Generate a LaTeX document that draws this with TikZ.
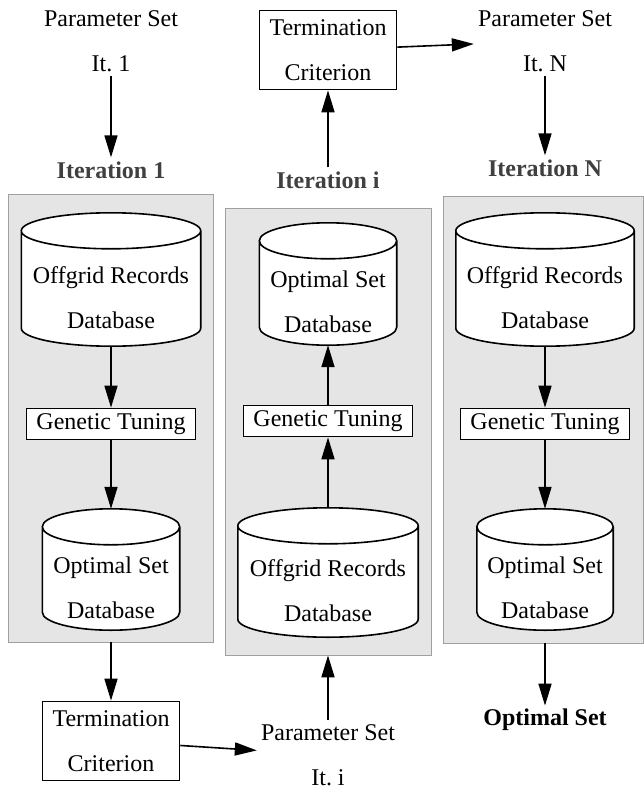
\documentclass[tikz,border=0pt]{standalone}
\usepackage{fontspec}
\setmainfont{Liberation Serif}
\usetikzlibrary{positioning,arrows.meta,calc}

% database cylinder: name, position, width, height, text
\newcommand{\dbnode}[5]{%
  \node[dbbox, minimum width=#3, minimum height=#4] (#1) at (#2) {};
  \draw[db] let \p1=(#1.north west), \p2=(#1.south east), \n1={(\x2-\x1)/2} in
    ([yshift=-18pt]#1.north west) -- ([yshift=18pt]#1.south west)
    arc[start angle=180, end angle=360, x radius=\n1, y radius=18pt]
    -- ([yshift=-18pt]#1.north east)
    arc[start angle=0, end angle=180, x radius=\n1, y radius=18pt]
    arc[start angle=180, end angle=360, x radius=\n1, y radius=18pt];
  \node[dbtext] (#1t) at ([yshift=-18pt]#1.center) {#5};
}

\begin{document}
\begin{tikzpicture}[
  x=1pt, y=-1pt,
  every node/.style={font=\fontsize{24}{45}\selectfont},
  txt/.style={align=center, inner sep=4pt},
  iter/.style={font=\fontsize{24}{45}\selectfont\bfseries, text=black!75, inner sep=4pt},
  panel/.style={draw=gray!75, fill=gray!20, line width=0.8pt, inner sep=0pt},
  crit/.style={draw, line width=1.6pt, align=center, inner xsep=10pt, inner ysep=9pt},
  tune/.style={draw, fill=white, line width=1.6pt, inner xsep=10pt, inner ysep=5pt},
  dbbox/.style={inner sep=0pt},
  db/.style={draw, fill=white, line width=1.6pt},
  dbtext/.style={align=center, inner sep=0pt},
  ar/.style={line width=1.6pt, -{Triangle[length=22pt,width=13pt]}}]

  \useasboundingbox (0,0) rectangle (644,789);

  % iteration panels
  \node[panel, minimum width=205pt, minimum height=448pt] (pan1) at (110.5,418) {};
  \node[panel, minimum width=206pt, minimum height=447pt] (pan2) at (328,431.5) {};
  \node[panel, minimum width=200pt, minimum height=447pt] (pan3) at (543,419.5) {};

  % iteration 1
  \node[txt] (ps1) at (111,41.5) {Parameter Set\\It.\ 1};
  \node[iter] (it1) at (111,170) {Iteration 1};
  \dbnode{off1}{111,279.5}{179pt}{133pt}{Offgrid Records\\Database}
  \node[tune] (gt1) at (111,424) {Genetic Tuning};
  \dbnode{opt1}{111,569.5}{137pt}{121pt}{Optimal Set\\Database}
  \node[crit] (tc1) at (111,741) {Termination\\Criterion};
  \node[txt] (psi) at (328,755) {Parameter Set\\It.\ i};

  % iteration i
  \node[crit] (tci) at (328,50) {Termination\\Criterion};
  \node[iter] (iti) at (328,180) {Iteration i};
  \dbnode{opti}{328,284}{137pt}{122pt}{Optimal Set\\Database}
  \node[tune] (gti) at (328,421) {Genetic Tuning};
  \dbnode{offi}{328,572.5}{180pt}{129pt}{Offgrid Records\\Database}

  % iteration N
  \node[txt] (psN) at (545,41) {Parameter Set\\It.\ N};
  \node[iter] (itN) at (545,168) {Iteration N};
  \dbnode{offN}{545,279.5}{178pt}{133pt}{Offgrid Records\\Database}
  \node[tune] (gtN) at (545,424) {Genetic Tuning};
  \dbnode{optN}{545,569.5}{136pt}{121pt}{Optimal Set\\Database}
  \node[font=\fontsize{24}{45}\selectfont\bfseries] (res) at (545,720) {Optimal Set};

  \draw[ar] (ps1) -- (it1);
  \draw[ar] (off1) -- (gt1);
  \draw[ar] (gt1) -- (opt1);
  \draw[ar] (pan1.south -| tc1) -- (tc1);
  \draw[ar] (tc1) -- (psi);
  \draw[ar] (psi) -- (psi |- pan2.south);
  \draw[ar] (offi) -- (gti);
  \draw[ar] (gti) -- (opti);
  \draw[ar] (iti) -- (tci);
  \draw[ar] (tci) -- (psN);
  \draw[ar] (psN) -- (itN);
  \draw[ar] (offN) -- (gtN);
  \draw[ar] (gtN) -- (optN);
  \draw[ar] (pan3.south -| res) -- (res);
\end{tikzpicture}
\end{document}
